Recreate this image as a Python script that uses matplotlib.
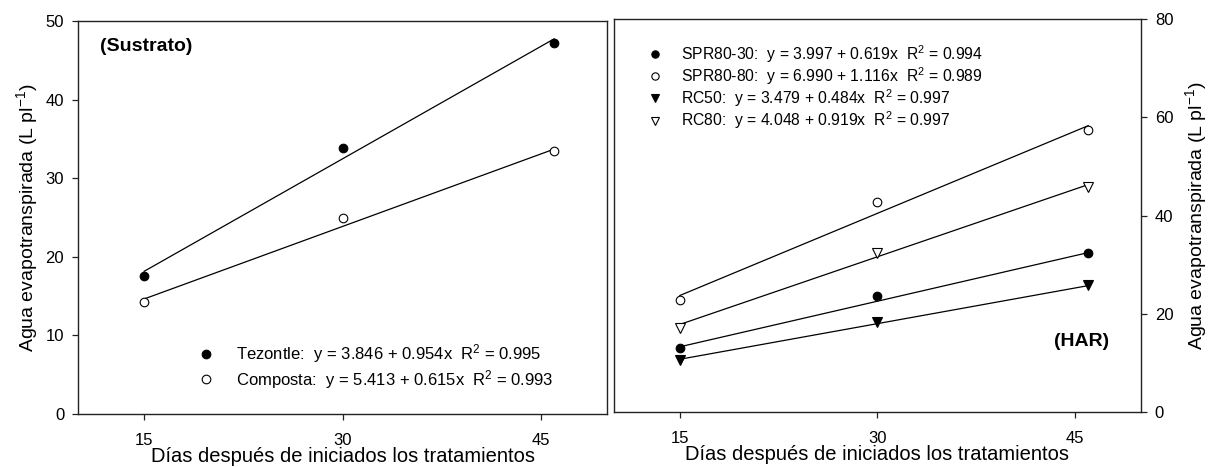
import matplotlib
matplotlib.use("Agg")
import matplotlib.pyplot as plt
import numpy as np

plt.rcParams['font.family'] = ['Liberation Sans', 'DejaVu Sans']
plt.rcParams['mathtext.fontset'] = 'custom'
plt.rcParams['mathtext.rm'] = 'Liberation Sans'
plt.rcParams['mathtext.it'] = 'Liberation Sans:italic'
plt.rcParams['mathtext.bf'] = 'Liberation Sans:bold'

# días después de iniciados los tratamientos
dias = [15, 30, 46]

# panel izquierdo (sustrato)
tezontle = [17.6, 33.8, 47.2]
composta = [14.3, 24.9, 33.4]

# panel derecho (HAR)
spr80_30 = [13.1, 23.7, 32.3]
spr80_80 = [22.9, 42.8, 57.5]
rc50 = [10.5, 18.4, 25.8]
rc80 = [17.2, 32.4, 45.8]

# coeficientes de regresión: intercepto, pendiente, R2
coef_tezontle = (3.846, 0.954, 0.995)
coef_composta = (5.413, 0.615, 0.993)
coef_spr80_30 = (3.997, 0.619, 0.994)
coef_spr80_80 = (6.990, 1.116, 0.989)
coef_rc50 = (3.479, 0.484, 0.997)
coef_rc80 = (4.048, 0.919, 0.997)

ylabel = 'Agua evapotranspirada (L pl$^{-1}$)'
xlabel = 'Días después de iniciados los tratamientos'


def etiqueta(nombre, c):
    return '%s:  y = %.3f + %.3fx  $\\mathrm{R}^2$ = %.3f' % (nombre, c[0], c[1], c[2])


def serie(ax, y, coef, marker, fill, label, ms):
    x_fit = np.array([dias[0], dias[-1]])
    ax.plot(x_fit, coef[0] + coef[1] * x_fit, color='black', lw=0.9, zorder=2)
    ax.plot(dias, y, linestyle='none', marker=marker, ms=ms,
            markerfacecolor=fill, markeredgecolor='black', markeredgewidth=0.8,
            label=label, zorder=3)


def estilo(ax):
    ax.set_xlim(10, 50)
    ax.set_xticks([15, 30, 45])
    for s in ax.spines.values():
        s.set_color('#222222')
        s.set_linewidth(1.0)
    ax.tick_params(direction='out', length=4, width=0.9, labelsize=12, color='#222222')
    ax.tick_params(axis='x', pad=10)
    ax.set_xlabel(xlabel, fontsize=14.5, labelpad=-1)


fig = plt.figure(figsize=(12.10, 4.67), dpi=100)

# ---- panel izquierdo
ax1 = fig.add_axes([0.0645, 0.1135, 0.4372, 0.8415])
serie(ax1, tezontle, coef_tezontle, 'o', 'black', etiqueta('Tezontle', coef_tezontle), 6.2)
serie(ax1, composta, coef_composta, 'o', 'white', etiqueta('Composta', coef_composta), 6.2)
estilo(ax1)
ax1.set_ylim(0, 50)
ax1.set_yticks(np.arange(0, 51, 10))
ax1.tick_params(axis='y', pad=6)
ax1.set_ylabel(ylabel, fontsize=14, labelpad=4)
ax1.text(0.042, 0.935, '(Sustrato)', transform=ax1.transAxes, fontsize=14,
         fontweight='bold', va='center', ha='left')
ax1.legend(loc='upper left', bbox_to_anchor=(0.227, 0.182), frameon=False,
           fontsize=12.0, borderpad=0, borderaxespad=0, handlelength=1.0,
           handletextpad=1.3, labelspacing=0.15)

# ---- panel derecho
ax2 = fig.add_axes([0.5074, 0.1178, 0.4355, 0.8409])
serie(ax2, spr80_30, coef_spr80_30, 'o', 'black', etiqueta('SPR80-30', coef_spr80_30), 6.2)
serie(ax2, spr80_80, coef_spr80_80, 'o', 'white', etiqueta('SPR80-80', coef_spr80_80), 6.2)
serie(ax2, rc50, coef_rc50, 'v', 'black', etiqueta('RC50', coef_rc50), 6.8)
serie(ax2, rc80, coef_rc80, 'v', 'white', etiqueta('RC80', coef_rc80), 6.8)
estilo(ax2)
ax2.set_ylim(0, 80)
ax2.set_yticks(np.arange(0, 81, 20))
ax2.yaxis.tick_right()
ax2.yaxis.set_label_position('right')
ax2.tick_params(axis='y', pad=6)
ax2.set_ylabel(ylabel, fontsize=14, labelpad=7)
ax2.text(0.94, 0.18, '(HAR)', transform=ax2.transAxes, fontsize=14,
         fontweight='bold', va='center', ha='right')
ax2.legend(loc='upper left', bbox_to_anchor=(0.0626, 0.94), frameon=False,
           fontsize=11.3, borderpad=0, borderaxespad=0, handlelength=1.0,
           handletextpad=1.2, labelspacing=0.03, markerscale=0.85)

fig.savefig('out.png', dpi=100)
